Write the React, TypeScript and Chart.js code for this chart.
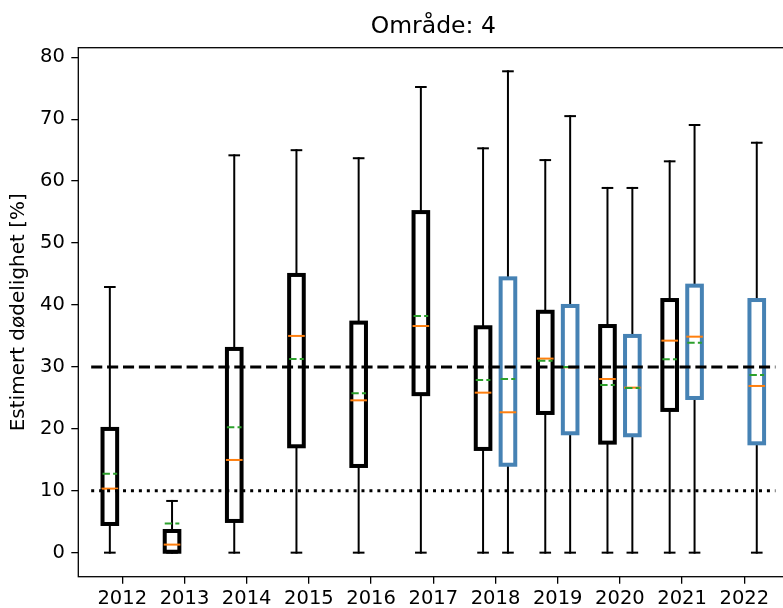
import React, { useEffect, useRef } from "react";
import { Chart, registerables } from "chart.js";

Chart.register(...registerables);

// ---------- data ----------
const years = [2012, 2013, 2014, 2015, 2016, 2017, 2018, 2019, 2020, 2021, 2022];
const yTicks = [0, 10, 20, 30, 40, 50, 60, 70, 80];

// black boxes (left of each year)
const blackMin = [0, 0, 0, 0, 0, 0, 0, 0, 0, 0, null];
const blackQ1 = [4.63, 0.15, 5.12, 17.18, 14.0, 25.6, 16.75, 22.56, 17.77, 23.05, null];
const blackMedian = [10.34, 1.3, 14.97, 35.0, 24.6, 36.6, 25.84, 31.34, 28.05, 34.24, null];
const blackMean = [12.76, 4.69, 20.25, 31.28, 25.74, 38.2, 27.9, 31.0, 27.08, 31.23, null];
const blackQ3 = [19.98, 3.5, 32.9, 44.85, 37.15, 55.0, 36.4, 38.9, 36.6, 40.8, null];
const blackMax = [42.9, 8.35, 64.17, 65.0, 63.7, 75.2, 65.3, 63.4, 58.9, 63.2, null];

// blue boxes (right of each year)
const blueMin = [null, null, null, null, null, null, 0, 0, 0, 0, 0];
const blueQ1 = [null, null, null, null, null, null, 14.2, 19.28, 18.96, 24.98, 17.66];
const blueMedian = [null, null, null, null, null, null, 22.67, 29.94, 26.65, 34.88, 26.92];
const blueMean = [null, null, null, null, null, null, 28.05, 30.0, 26.6, 33.91, 28.7];
const blueQ3 = [null, null, null, null, null, null, 44.3, 39.84, 35.0, 43.12, 40.8];
const blueMax = [null, null, null, null, null, null, 77.74, 70.5, 58.9, 69.07, 66.2];

// reference lines
const refDashedValue = 30;
const refDottedValue = 10;
const refLineX = [2011.5, 2022.5];

const TITLE = "Område: 4";
const Y_LABEL = "Estimert dødelighet [%]";

// ---------- styles / layout ----------
const FONT = "'DejaVu Sans', 'Liberation Sans', sans-serif";
const X_MIN = 2011.293;
const X_MAX = 2022.707;
const Y_MIN = -3.883;
const Y_MAX = 81.55;
const BOX_WIDTH = 0.235;
const CAP_WIDTH = 0.155;
const MEDIAN_COLOR = "#ff7f0e";
const MEAN_COLOR = "#2ca02c";

const boxSeries = [
  { offset: -0.2, color: "#000000", min: blackMin, q1: blackQ1, median: blackMedian, mean: blackMean, q3: blackQ3, max: blackMax },
  { offset: 0.2, color: "#4682b4", min: blueMin, q1: blueQ1, median: blueMedian, mean: blueMean, q3: blueQ3, max: blueMax },
];

function seg(ctx: CanvasRenderingContext2D, x1: number, y1: number, x2: number, y2: number) {
  ctx.beginPath();
  ctx.moveTo(x1, y1);
  ctx.lineTo(x2, y2);
  ctx.stroke();
}

const boxPlugin = {
  id: "boxplotDraw",
  beforeDatasetsDraw(chart: any) {
    const { ctx } = chart;
    const xs = chart.scales.x;
    const ys = chart.scales.y;
    ctx.save();
    for (const s of boxSeries) {
      for (let i = 0; i < years.length; i++) {
        if (s.q1[i] == null) continue;
        const pos = years[i] + s.offset;
        const cx = xs.getPixelForValue(pos);
        const xl = xs.getPixelForValue(pos - BOX_WIDTH / 2);
        const xr = xs.getPixelForValue(pos + BOX_WIDTH / 2);
        const cl = xs.getPixelForValue(pos - CAP_WIDTH / 2);
        const cr = xs.getPixelForValue(pos + CAP_WIDTH / 2);
        const yMin = ys.getPixelForValue(s.min[i]);
        const yQ1 = ys.getPixelForValue(s.q1[i]);
        const yMed = ys.getPixelForValue(s.median[i]);
        const yMean = ys.getPixelForValue(s.mean[i]);
        const yQ3 = ys.getPixelForValue(s.q3[i]);
        const yMax = ys.getPixelForValue(s.max[i]);

        // whiskers + caps
        ctx.setLineDash([]);
        ctx.strokeStyle = "#000";
        ctx.lineWidth = 2;
        ctx.lineCap = "square";
        seg(ctx, cx, yQ3, cx, yMax);
        seg(ctx, cx, yQ1, cx, yMin);
        seg(ctx, cl, yMax, cr, yMax);
        seg(ctx, cl, yMin, cr, yMin);

        // box
        ctx.strokeStyle = s.color;
        ctx.lineWidth = 4;
        ctx.lineJoin = "miter";
        ctx.strokeRect(xl, yQ3, xr - xl, yQ1 - yQ3);

        // median
        ctx.strokeStyle = MEDIAN_COLOR;
        ctx.lineWidth = 2;
        ctx.lineCap = "square";
        seg(ctx, xl, yMed, xr, yMed);

        // mean
        ctx.strokeStyle = MEAN_COLOR;
        ctx.lineWidth = 2;
        ctx.lineCap = "butt";
        ctx.setLineDash([7.4, 3.2]);
        seg(ctx, xl, yMean, xr, yMean);
        ctx.setLineDash([]);
      }
    }
    ctx.restore();
  },
  afterDraw(chart: any) {
    const { ctx, chartArea } = chart;
    ctx.save();
    ctx.strokeStyle = "#000";
    ctx.lineWidth = 1.3;
    ctx.setLineDash([]);
    ctx.strokeRect(chartArea.left, chartArea.top, chartArea.right - chartArea.left, chartArea.bottom - chartArea.top);
    ctx.restore();
  },
};

export default function App() {
  const ref = useRef<HTMLCanvasElement | null>(null);

  useEffect(() => {
    if (!ref.current) return;
    const tickFont = { family: FONT, size: 19.5 };
    const gridOpts = {
      display: true,
      drawOnChartArea: false,
      drawTicks: true,
      tickLength: 7,
      color: "#000",
      lineWidth: 1.3,
    };
    const chart = new Chart(ref.current, {
      type: "line",
      data: {
        datasets: [
          {
            label: "ref30",
            data: refLineX.map((x) => ({ x, y: refDashedValue })),
            borderColor: "#000",
            borderWidth: 3,
            borderDash: [11.1, 4.8],
            borderCapStyle: "butt",
            pointRadius: 0,
            fill: false,
          },
          {
            label: "ref10",
            data: refLineX.map((x) => ({ x, y: refDottedValue })),
            borderColor: "#000",
            borderWidth: 3,
            borderDash: [3, 4.95],
            borderCapStyle: "butt",
            pointRadius: 0,
            fill: false,
          },
        ],
      },
      options: {
        responsive: false,
        animation: false,
        devicePixelRatio: 1,
        layout: { padding: { left: 0, right: 800 - 788.3, top: 0, bottom: 0 } },
        plugins: {
          legend: { display: false },
          tooltip: { enabled: false },
          title: {
            display: true,
            text: TITLE,
            color: "#000",
            fullSize: false,
            font: { family: FONT, size: 23.5, weight: "normal" },
            padding: { top: 12.9, bottom: 6.6 },
          },
        },
        scales: {
          x: {
            type: "linear",
            min: X_MIN,
            max: X_MAX,
            bounds: "data",
            offset: false,
            afterBuildTicks: (s: any) => {
              s.ticks = years.map((v) => ({ value: v }));
            },
            afterFit: (s: any) => {
              s.height = 608 - 576.7;
            },
            grid: gridOpts,
            border: { display: false },
            ticks: {
              color: "#000",
              font: tickFont,
              padding: 3.3,
              maxRotation: 0,
              autoSkip: false,
              callback: (v: any) => String(v),
            },
          },
          y: {
            type: "linear",
            min: Y_MIN,
            max: Y_MAX,
            bounds: "data",
            afterBuildTicks: (s: any) => {
              s.ticks = yTicks.map((v) => ({ value: v }));
            },
            afterFit: (s: any) => {
              s.width = 78.3;
            },
            grid: gridOpts,
            border: { display: false },
            ticks: {
              color: "#000",
              font: tickFont,
              padding: 6.5,
              autoSkip: false,
              callback: (v: any) => String(v),
            },
            title: {
              display: true,
              text: Y_LABEL,
              color: "#000",
              font: { family: FONT, size: 20 },
              padding: { top: 6.3, bottom: 0 },
            },
          },
        },
      },
      plugins: [boxPlugin],
    } as any);
    return () => chart.destroy();
  }, []);

  return (
    <div
      style={{
        position: "fixed",
        left: 0,
        top: 0,
        width: 783,
        height: 608,
        overflow: "hidden",
        background: "#fff",
      }}
    >
      <canvas ref={ref} width={800} height={608} style={{ display: "block" }} />
    </div>
  );
}
